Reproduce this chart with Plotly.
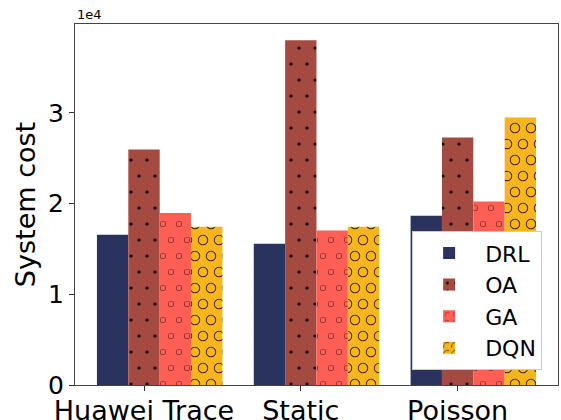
import plotly.graph_objects as go

categories = ["Huawei Trace", "Static", "Poisson"]
series_names = ["DRL", "OA", "GA", "DQN"]
drl = [16570, 15580, 18670]
oa = [25970, 38010, 27290]
ga = [18970, 17020, 20220]
dqn = [17460, 17460, 29500]
ytick_vals = [0, 10000, 20000, 30000]
ytick_text = ["0", "1", "2", "3"]

colors = ["#29335D", "#A44A40", "#FF5E55", "#F6B41E"]


def ring(cx, cy, ro, ri):
    outer = f"M{cx-ro},{cy} A{ro},{ro} 0 1,0 {cx+ro},{cy} A{ro},{ro} 0 1,0 {cx-ro},{cy} Z "
    inner = f"M{cx-ri},{cy} A{ri},{ri} 0 1,1 {cx+ri},{cy} A{ri},{ri} 0 1,1 {cx-ri},{cy} Z "
    return outer + inner


def dot(cx, cy, r):
    return f"M{cx-r},{cy} A{r},{r} 0 1,0 {cx+r},{cy} A{r},{r} 0 1,0 {cx-r},{cy} Z "


centers = [(8, 8), (24, 8), (0, 24), (16, 24), (32, 24)]
oa_path = "".join(dot(x, y, 1.6) for x, y in centers)
ga_path = "".join(ring(x, y, 3.1, 2.4) for x, y in centers)
dqn_path = "".join(ring(x, y, 5.2, 4.3) for x, y in centers)

patterns = [
    None,
    dict(path=oa_path, size=32, fgcolor="#000000", fgopacity=1.0),
    dict(path=ga_path, size=32, fgcolor="#000000", fgopacity=0.5),
    dict(path=dqn_path, size=32, fgcolor="#000000", fgopacity=0.8),
]

values = [drl, oa, ga, dqn]
bar_w = 0.2
fig = go.Figure()
for k, (name, vals) in enumerate(zip(series_names, values)):
    xs = [i + (k - 1) * bar_w for i in range(len(categories))]
    marker = dict(color=colors[k], line=dict(width=0))
    if patterns[k] is not None:
        marker["pattern"] = patterns[k]
    fig.add_trace(go.Bar(x=xs, y=vals, width=bar_w, name=name, marker=marker))

fig.update_layout(
    width=561, height=420,
    margin=dict(l=75, r=3, t=24, b=35, autoexpand=False),
    paper_bgcolor="white", plot_bgcolor="white",
    barmode="overlay",
    font=dict(family="DejaVu Sans", color="black"),
    showlegend=True,
    legend=dict(
        x=0.698, y=0.426, xanchor="left", yanchor="top",
        bgcolor="white", bordercolor="#cccccc", borderwidth=1,
        font=dict(size=22), itemwidth=62,
    ),
    xaxis=dict(
        range=[-0.44, 2.64],
        tickvals=list(range(len(categories))), ticktext=categories,
        ticks="outside", ticklen=5, tickcolor="#333",
        showline=True, mirror=True, linecolor="#444", linewidth=1.2,
        showgrid=False, zeroline=False, automargin=False,
        tickfont=dict(size=27), ticklabelstandoff=-4,
    ),
    yaxis=dict(
        range=[0, 39800],
        tickvals=ytick_vals, ticktext=ytick_text,
        ticks="outside", ticklen=5, tickcolor="#333",
        showline=True, mirror=True, linecolor="#444", linewidth=1.2,
        showgrid=False, zeroline=False, automargin=False,
        tickfont=dict(size=25),
        title=dict(text="System cost", font=dict(size=27), standoff=4),
    ),
    annotations=[dict(
        text="1e4", xref="paper", yref="paper", x=0, y=1,
        xanchor="left", yanchor="bottom", showarrow=False,
        font=dict(size=13),
    )],
)

fig.write_html("out.html")
